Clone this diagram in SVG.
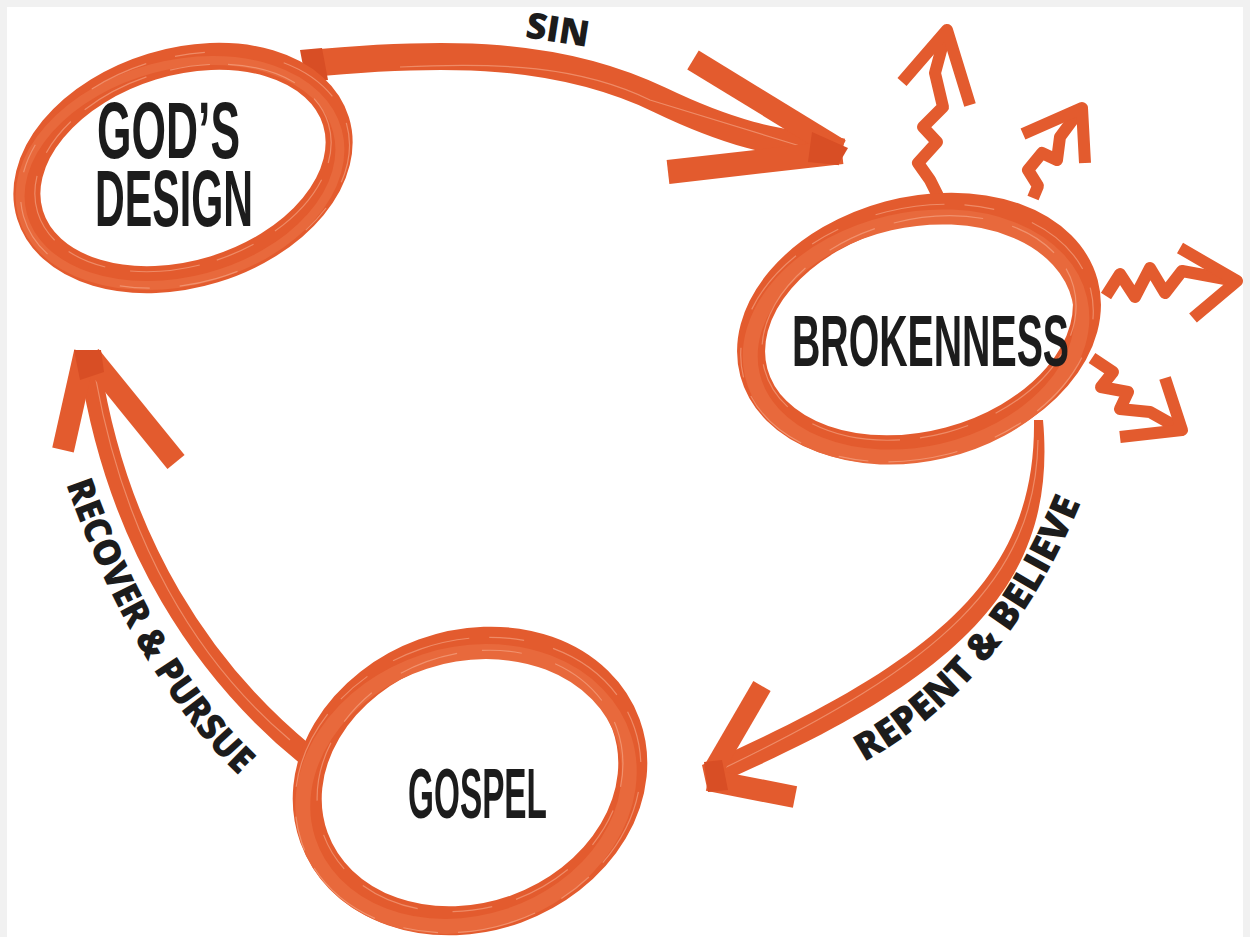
<svg xmlns="http://www.w3.org/2000/svg" width="1250" height="937" viewBox="0 0 1250 937">
<defs>
<style>
.node-text{font-family:"Liberation Sans",Arial,sans-serif;font-weight:700;fill:#1c1c1c}
.label{font-family:"Open Sans","Liberation Sans",Arial,sans-serif;font-weight:800;fill:#1c1c1c}
.ring{fill:none;stroke:#E35B2E}
.ring2{fill:none;stroke:#E8693C}
.hl{fill:none;stroke:#F7B396;stroke-width:1.2;opacity:0.55}
.band{fill:none;stroke:#E35B2E;stroke-linecap:butt;stroke-linejoin:round}
.bandfill{fill:#E35B2E}
.dark{fill:#D84E25}
.ray{fill:none;stroke:#E35B2E;stroke-width:12;stroke-linejoin:round;stroke-linecap:butt}
</style>
</defs>
<rect x="0" y="0" width="1250" height="937" fill="#f1f1f1"/>
<rect x="7" y="7" width="1236" height="930" fill="#ffffff"/>

<g id="connectors">
  <g id="edge-sin">
    <path class="band" stroke-width="27" d="M305,64 C450,50 560,52 660,100 S800,142 842,152"/>
    <path class="hl" d="M400,67 C500,62 580,66 650,100 L800,146"/>
    <path class="band" stroke-width="22" d="M693,60 L840,150"/>
    <path class="band" stroke-width="24" d="M668,172 L842,152"/>
    <path class="dark" d="M812,132 L848,148 L838,165 L808,162 Z"/>
    <path class="dark" d="M300,50 L322,48 L328,80 L306,82 Z"/>
  </g>
  <g id="edge-repent">
    <path class="bandfill" d="M1034,420 C1036,575 940,660 702,765 L707,788 C960,680 1058,585 1043,420 Z"/>
    <path class="hl" d="M1038,440 C1036,580 940,665 720,770"/>
    <path class="band" stroke-width="20" d="M762,686 L712,772"/>
    <path class="band" stroke-width="22" d="M708,780 L795,797"/>
    <path class="dark" d="M704,762 L722,760 L728,790 L708,792 Z"/>
  </g>
  <g id="edge-recover">
    <path class="band" stroke-width="21" d="M305,754 C205,672 118,545 90,365"/>
    <path class="hl" d="M290,740 C195,660 125,540 96,380"/>
    <path class="band" stroke-width="22" d="M85,352 L63,450"/>
    <path class="band" stroke-width="22" d="M90,356 L176,462"/>
    <path class="dark" d="M74,350 L101,350 L104,372 L80,380 Z"/>
  </g>
</g>

<g id="node-gods-design">
  <ellipse class="ring" cx="183" cy="168" rx="160" ry="106" stroke-width="27" transform="rotate(-17 183 168)"/>
  <ellipse class="ring2" cx="180" cy="173" rx="163" ry="108" stroke-width="9" transform="rotate(-15 180 173)"/>
  <ellipse class="hl" cx="183" cy="168" rx="152" ry="98" stroke-dasharray="40 18 70 25" transform="rotate(-17 183 168)"/>
  <ellipse class="hl" cx="185" cy="170" rx="168" ry="113" stroke-dasharray="60 30 30 80" transform="rotate(-16 185 170)"/>
  <text class="node-text" x="97" y="158" font-size="80" textLength="143" lengthAdjust="spacingAndGlyphs">GOD’S</text>
  <text class="node-text" x="95" y="226" font-size="79" textLength="158" lengthAdjust="spacingAndGlyphs">DESIGN</text>
</g>

<g id="node-brokenness">
  <g id="rays">
    <path class="ray" d="M938,196 L930,180 L918,163 L937,142 L923,127 L943,107 L935,73 L946,32"/>
    <path class="ray" d="M902,82 L947,30 L970,105"/>
    <path class="ray" d="M1033,198 L1038,186 L1028,170 L1042,153 L1057,160 L1060,137 L1080,110"/>
    <path class="ray" d="M1023,134 L1082,108 L1085,163"/>
    <path class="ray" d="M1106,296 L1120,274 L1135,297 L1150,268 L1165,293 L1182,271 L1236,281"/>
    <path class="ray" d="M1180,248 L1237,281 L1193,318"/>
    <path class="ray" d="M1092,358 L1113,372 L1101,387 L1128,392 L1120,409 L1150,412 L1182,430"/>
    <path class="ray" d="M1165,378 L1182,430 L1120,437"/>
  </g>
  <ellipse class="ring" cx="919" cy="328" rx="171" ry="117" stroke-width="28" transform="rotate(-15 919 328)"/>
  <ellipse class="ring2" cx="916" cy="337" rx="168" ry="117" stroke-width="15" transform="rotate(-13 916 337)"/>
  <ellipse class="hl" cx="919" cy="328" rx="160" ry="108" stroke-dasharray="50 20 90 30" transform="rotate(-15 919 328)"/>
  <ellipse class="hl" cx="917" cy="333" rx="179" ry="125" stroke-dasharray="30 40 70 20" transform="rotate(-14 917 333)"/>
  <text class="node-text" x="792" y="366" font-size="73" textLength="277" lengthAdjust="spacingAndGlyphs">BROKENNESS</text>
</g>

<g id="node-gospel">
  <ellipse class="ring" cx="470" cy="781" rx="166" ry="136" stroke-width="29" transform="rotate(-20 470 781)"/>
  <ellipse class="ring2" cx="466" cy="789" rx="166" ry="134" stroke-width="15" transform="rotate(-18 466 789)"/>
  <ellipse class="hl" cx="470" cy="781" rx="156" ry="127" stroke-dasharray="60 25 40 35" transform="rotate(-20 470 781)"/>
  <ellipse class="hl" cx="468" cy="785" rx="176" ry="144" stroke-dasharray="35 30 80 20" transform="rotate(-19 468 785)"/>
  <text class="node-text" x="408" y="818" font-size="71" textLength="139" lengthAdjust="spacingAndGlyphs">GOSPEL</text>
</g>

<g id="labels">
  <text class="label" x="526" y="42" font-size="36" transform="rotate(9 556 30)">SIN</text>
  <path id="repentPath" d="M864,762 Q1010,682 1086,490" fill="none"/>
  <text class="label" font-size="38"><textPath href="#repentPath" textLength="345" lengthAdjust="spacingAndGlyphs">REPENT &amp; BELIEVE</textPath></text>
  <path id="recoverPath" d="M66,484 Q136,682 246,782" fill="none"/>
  <text class="label" font-size="37"><textPath href="#recoverPath" textLength="342" lengthAdjust="spacingAndGlyphs">RECOVER &amp; PURSUE</textPath></text>
</g>
</svg>
